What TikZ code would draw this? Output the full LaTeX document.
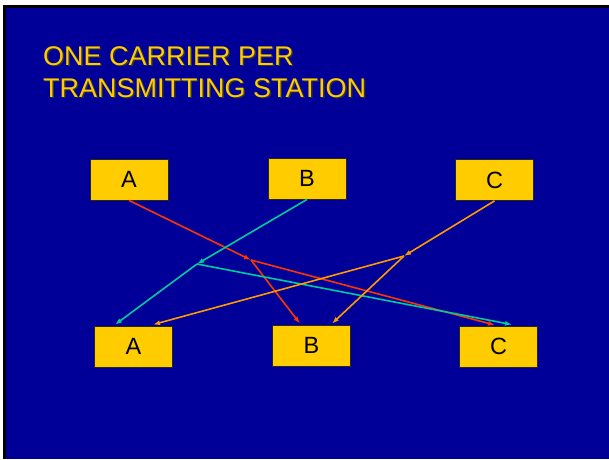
\documentclass[tikz,border=0pt]{standalone}
\usepackage{fontspec}
\setmainfont{Liberation Sans}
\usetikzlibrary{arrows.meta}
\definecolor{slideblue}{HTML}{000099}
\definecolor{boxyellow}{HTML}{FFCC00}
\definecolor{redlink}{HTML}{FF3300}
\definecolor{tealink}{HTML}{00CC99}
\definecolor{orangelink}{HTML}{FF9900}
\tikzset{
  station/.style={draw=black!85, line width=0.8pt, fill=boxyellow,
    minimum width=78pt, minimum height=41pt, inner sep=0pt,
    font=\fontsize{23.5}{26}\selectfont, text=black},
  link/.style={line width=1.6pt, -{Latex[length=7pt,width=5pt]}},
  titletext/.style={anchor=base west, inner sep=0pt,
    font=\fontsize{27}{30}\selectfont}
}
\begin{document}
\begin{tikzpicture}[x=1pt,y=-1pt]
\useasboundingbox (0,0) rectangle (609,459);
% slide frame and background
\fill[white] (0,0) rectangle (609,459);
\fill[black] (3,5) rectangle (609,459);
\fill[slideblue] (6,8) rectangle (609,459);

% title with drop shadow
\node[titletext, text=black!80] at (44.5,66.5) {ONE CARRIER PER};
\node[titletext, text=black!80] at (44.5,98.5) {TRANSMITTING STATION};
\node[titletext, text=boxyellow] (t1) at (43,65) {ONE CARRIER PER};
\node[titletext, text=boxyellow] (t2) at (43,97) {TRANSMITTING STATION};

% transmitting stations
\node[station] (At) at (129,179.5) {A};
\node[station] (Bt) at (307,178.5) {B};
\node[station] (Ct) at (494.5,180) {C};
% receiving stations
\node[station] (Ab) at (133.5,346.5) {A};
\node[station] (Bb) at (311.5,345.5) {B};
\node[station] (Cb) at (498.5,346.5) {C};

% branch points of each carrier
\coordinate (r) at (251,260);
\coordinate (c) at (197,264);
\coordinate (o) at (404,256);

% carrier from A
\draw[link, redlink] (At.south) -- (r);
\draw[link, redlink] (r) -- ([xshift=-11.5pt,yshift=1pt]Bb.north);
\draw[link, redlink] (r) -- ([xshift=-3.5pt,yshift=0.5pt]Cb.north);
% carrier from B
\draw[link, tealink] (Bt.south) -- (c);
\draw[link, tealink] (c) -- ([xshift=-18.5pt,yshift=1pt]Ab.north);
\draw[link, tealink] (c) -- ([xshift=13.5pt,yshift=1pt]Cb.north);
% carrier from C
\draw[link, orangelink] (Ct.south) -- (o);
\draw[link, orangelink] (o) -- ([xshift=19.5pt,yshift=1pt]Ab.north);
\draw[link, orangelink] (o) -- ([xshift=20.5pt,yshift=1pt]Bb.north);
\end{tikzpicture}
\end{document}
